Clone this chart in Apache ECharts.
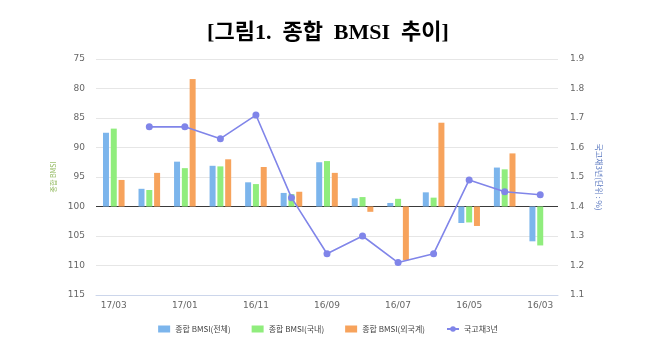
<!DOCTYPE html>
<html>
<head>
<meta charset="utf-8">
<script src="https://cdn.jsdelivr.net/npm/echarts@6/dist/echarts.min.js"></script>
<style>
html,body{margin:0;padding:0;background:#fff;}
#chart{width:656px;height:350px;}
</style>
</head>
<body>
<div id="chart"></div>
<script>
// Chronological order (x axis is drawn inverted: newest at left)
var categories = ['16/03','16/04','16/05','16/06','16/07','16/08','16/09','16/10','16/11','16/12','17/01','17/02','17/03'];
var bmsiTotal    = [105.9, 93.4, 102.8, 97.6, 99.4, 98.6, 92.5, 97.7, 95.9, 93.1, 92.4, 97.0, 87.5];
var bmsiDomestic = [106.6, 93.7, 102.7, 98.5, 98.7, 98.4, 92.3, 97.9, 96.2, 93.2, 93.5, 97.2, 86.8];
var bmsiForeign  = [null, 91.0, 103.3, 85.8, 109.1, 100.9, 94.3, 97.5, 93.3, 92.0, 78.4, 94.3, 95.5];
var treasury3y   = [1.44, 1.45, 1.49, 1.24, 1.21, 1.30, 1.24, 1.43, 1.71, 1.63, 1.67, 1.67, null];
var leftTicks = [75, 80, 85, 90, 95, 100, 105, 110, 115];
var rightTicks = [1.1, 1.2, 1.3, 1.4, 1.5, 1.6, 1.7, 1.8, 1.9];
var BASE = 100; // bars grow from the 100 baseline

function shift(arr){ return arr.map(function(v){ return v == null ? null : +(v - BASE).toFixed(2); }); }

var gridColors = leftTicks.map(function(t){ return t === BASE ? '#3a3a3a' : '#e6e6e6'; });
var labelFont = 'DejaVu Sans';

var chart = echarts.init(document.getElementById('chart'), null, {renderer:'canvas'});
chart.setOption({
  animation: false,
  title: {
    text: '[그림1.  종합  BMSI  추이]',
    left: 'center', top: 17,
    textStyle: {fontFamily: "'Liberation Serif', 'Noto Sans CJK KR'", fontWeight: 'bold', fontSize: 22, color: '#000'}
  },
  color: ['#7cb5ec', '#90ed7d', '#f7a35c', '#8085e9'],
  legend: {
    bottom: 12, left: 'center',
    itemWidth: 12, itemHeight: 7, itemGap: 21,
    textStyle: {fontFamily: "'Noto Sans CJK KR'", fontSize: 8, color: '#444'},
    data: [
      {name: '종합 BMSI(전체)', icon: 'rect'},
      {name: '종합 BMSI(국내)', icon: 'rect'},
      {name: '종합 BMSI(외국계)', icon: 'rect'},
      {name: '국고채3년'}
    ]
  },
  grid: {left: 96, right: 98, top: 59, bottom: 55, containLabel: false},
  xAxis: {
    type: 'category', data: categories, inverse: true, boundaryGap: true,
    axisLine: {onZero: false, lineStyle: {color: '#ccd6eb'}},
    axisTick: {interval: 1, length: 6, lineStyle: {color: '#ccd6eb'}},
    axisLabel: {interval: 1, margin: 6, fontFamily: labelFont, fontSize: 9, color: '#666'}
  },
  yAxis: [
    {
      type: 'value', inverse: true,
      min: leftTicks[0] - BASE, max: leftTicks[leftTicks.length-1] - BASE, interval: 5,
      name: '종합 BMSI', nameLocation: 'middle', nameGap: 36, nameRotate: 90,
      nameTextStyle: {fontFamily: "'Noto Sans CJK KR'", fontSize: 7, color: '#8fb85a'},
      axisLine: {show: false}, axisTick: {show: false},
      axisLabel: {margin: 11, fontFamily: labelFont, fontSize: 9, color: '#666',
        formatter: function(v){ return String(Math.round(v + BASE)); }},
      splitLine: {show: true, lineStyle: {color: gridColors, width: 1}}
    },
    {
      type: 'value',
      min: rightTicks[0], max: rightTicks[rightTicks.length-1], interval: 0.1,
      name: '국고채3년(단위 : %)', nameLocation: 'middle', nameGap: 35, nameRotate: -90,
      nameTextStyle: {fontFamily: "'Noto Sans CJK KR'", fontSize: 8, color: '#5a78c0'},
      axisLine: {show: false}, axisTick: {show: false},
      axisLabel: {margin: 12, fontFamily: labelFont, fontSize: 9, color: '#666',
        formatter: function(v){ return v.toFixed(1); }},
      splitLine: {show: false}
    }
  ],
  series: [
    {name: '종합 BMSI(전체)', type: 'bar', yAxisIndex: 0, barWidth: 6, barGap: '30%', data: shift(bmsiTotal)},
    {name: '종합 BMSI(국내)', type: 'bar', yAxisIndex: 0, barWidth: 6, barGap: '30%', data: shift(bmsiDomestic)},
    {name: '종합 BMSI(외국계)', type: 'bar', yAxisIndex: 0, barWidth: 6, barGap: '30%', data: shift(bmsiForeign)},
    {name: '국고채3년', type: 'line', yAxisIndex: 1, data: treasury3y, z: 5,
      symbol: 'circle', symbolSize: 7, lineStyle: {width: 1.6, color: '#8085e9'},
      itemStyle: {color: '#8085e9'}}
  ]
});
</script>
</body>
</html>
